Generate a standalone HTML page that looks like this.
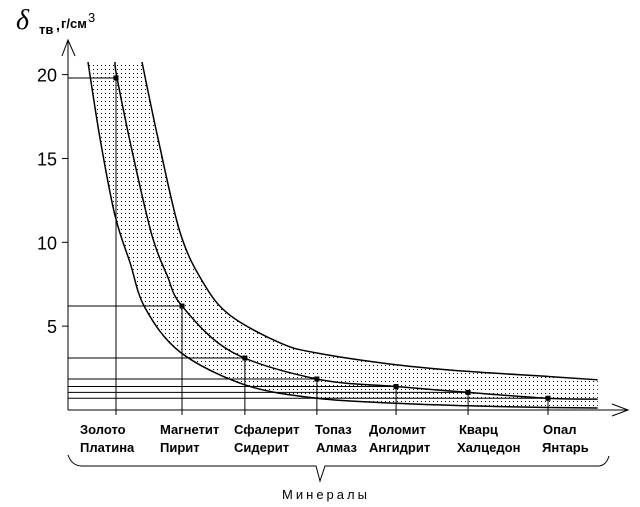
<!DOCTYPE html>
<html><head><meta charset="utf-8"><style>
html,body{margin:0;padding:0;background:#fff;}
svg{display:block;font-family:"Liberation Sans",sans-serif;}
</style></head><body>
<svg id="chart" width="640" height="507" viewBox="0 0 640 507">
<defs>
<pattern id="dots" width="4" height="4" patternUnits="userSpaceOnUse"><rect x="1" y="1" width="1" height="1" fill="#000"/></pattern>
<clipPath id="clip"><rect x="68" y="62" width="560" height="348"/></clipPath>
</defs>
<g>
<text x="16" y="29" font-family="Liberation Serif,serif" font-style="italic" font-size="28">δ</text>
<text x="39" y="34" font-size="13" font-weight="bold">тв</text>
<text x="56" y="30" font-size="14" font-weight="bold">,</text>
<text x="61" y="28" font-size="13" font-weight="bold">г/см</text>
<text x="88" y="22" font-size="13">3</text>
</g>
<g id="axes"></g>
<g id="marks"></g>
<g font-size="13" font-weight="bold">
<text x="80" y="434">Золото</text><text x="80" y="452">Платина</text>
<text x="160" y="434">Магнетит</text><text x="160" y="452">Пирит</text>
<text x="234" y="434">Сфалерит</text><text x="234" y="452">Сидерит</text>
<text x="315" y="434">Топаз</text><text x="316" y="452">Алмаз</text>
<text x="369" y="434">Доломит</text><text x="369" y="452">Ангидрит</text>
<text x="459" y="434">Кварц</text><text x="457" y="452">Халцедон</text>
<text x="543" y="434">Опал</text><text x="542" y="452">Янтарь</text>
</g>
<path d="M68,455 Q72,466 82,466 L316,466 L320,481 L325,466 L598,466 Q606,466 609,456" fill="none" stroke="#000" stroke-width="1"/>
<text x="326" y="499" font-size="13" text-anchor="middle" letter-spacing="3">Минералы</text>
</svg>
<script>
const catU = [0, 0.917, 1.79, 2.79, 3.89, 4.89, 6.0];
const midVals = [19.8, 6.2, 3.1, 1.85, 1.4, 1.05, 0.7];
const yTicks = [5, 10, 15, 20];
const lowerU = [-0.389, -0.222, -0.014, 0.194, 0.403, 0.889, 1.79, 2.79, 3.89, 4.89, 6.0, 6.69];
const lowerV = [20.75, 16.2, 11.6, 8.8, 6.1, 3.46, 1.5, 0.7, 0.4, 0.25, 0.15, 0.12];
const middleU = [-0.014, 0.014, 0.236, 0.5, 0.708, 0.917, 1.61, 2.79, 3.89, 4.89, 6.0, 6.69];
const middleV = [20.75, 19.8, 15.2, 10.4, 8.05, 6.2, 3.46, 1.85, 1.4, 1.05, 0.7, 0.65];
const upperU = [0.361, 0.583, 0.889, 1.21, 1.58, 2.28, 2.79, 3.89, 4.89, 6.0, 6.69];
const upperV = [20.75, 16.2, 10.6, 7.6, 5.66, 4.0, 3.4, 2.7, 2.3, 2.0, 1.8];

const NS = 'http://www.w3.org/2000/svg';
const X = u => 116 + u * 72;
const Y = v => 410 - v * 16.77;
function mk(tag, attrs, parent) {
  const e = document.createElementNS(NS, tag);
  for (const k in attrs) e.setAttribute(k, attrs[k]);
  parent.appendChild(e); return e;
}
function curvePts(us, vs) { return us.map((u, i) => [X(u), Y(vs[i])]); }
function catmull(p, move) {
  let d = (move ? 'M' : 'L') + p[0][0] + ',' + p[0][1];
  for (let i = 0; i < p.length - 1; i++) {
    const p0 = p[i - 1] || p[i], p1 = p[i], p2 = p[i + 1], p3 = p[i + 2] || p2;
    const c1 = [p1[0] + (p2[0] - p0[0]) / 6, p1[1] + (p2[1] - p0[1]) / 6];
    const c2 = [p2[0] - (p3[0] - p1[0]) / 6, p2[1] - (p3[1] - p1[1]) / 6];
    d += 'C' + c1 + ' ' + c2 + ' ' + p2;
  }
  return d;
}
const axes = document.getElementById('axes');
const marks = document.getElementById('marks');

const up = curvePts(upperU, upperV), lo = curvePts(lowerU, lowerV);
const band = mk('path', {d: 'M' + lo[0][0] + ',' + lo[0][1] + 'L' + up[0][0] + ',' + up[0][1] + catmull(up, false) + 'L' + lo[lo.length-1][0] + ',' + lo[lo.length-1][1] + catmull(lo.slice().reverse(), false) + 'Z', fill: 'url(#dots)', 'clip-path': 'url(#clip)'}, marks);



catU.forEach((u, i) => {
  const h = mk('line', {x1: 68, x2: X(u), y1: Y(midVals[i]), y2: Y(midVals[i]), stroke: '#000', 'stroke-width': 1}, marks);
  
  
  const v = mk('line', {x1: X(u), x2: X(u), y1: Y(midVals[i]), y2: 415, stroke: '#000', 'stroke-width': 1}, marks);
  
  
});

[[lowerU, lowerV, 'lower-curve'], [middleU, middleV, 'middle-curve'], [upperU, upperV, 'upper-curve']].forEach(c => {
  const p = mk('path', {d: catmull(curvePts(c[0], c[1]), true), fill: 'none', stroke: '#000', 'stroke-width': 1.5, 'clip-path': 'url(#clip)'}, marks);
  
  
});

catU.forEach((u, i) => {
  const r = mk('rect', {x: X(u) - 2.5, y: Y(midVals[i]) - 2.5, width: 5, height: 5, fill: '#000'}, marks);
  
  
});

const ya = mk('path', {d: 'M68,410 L68,40 M62,56 L68,40 L75,56', fill: 'none', stroke: '#000'}, axes);


const xa = mk('path', {d: 'M68,410 L628,410 M612,404 L628,410 L612,416', fill: 'none', stroke: '#000'}, axes);


yTicks.forEach(t => {
  const l = mk('line', {x1: 62, x2: 68, y1: Y(t), y2: Y(t), stroke: '#000'}, axes);
  
  
  const tx = mk('text', {x: 57, y: Y(t) + 7, 'font-size': 18, 'text-anchor': 'end'}, axes);
  tx.textContent = t;
  
  
});
</script>
</body></html>
